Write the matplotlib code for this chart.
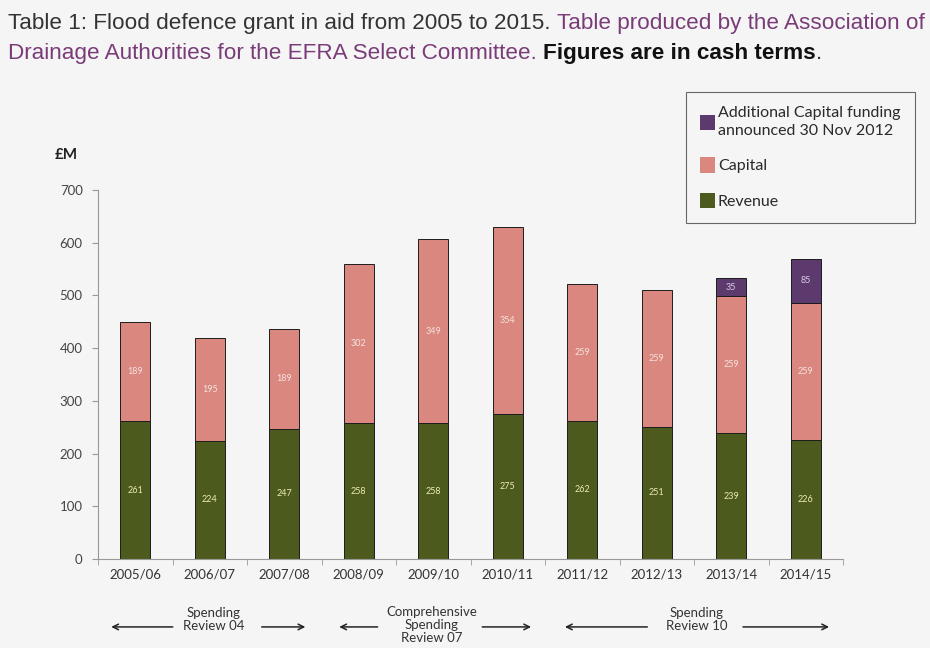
import matplotlib
matplotlib.use("Agg")
import matplotlib.pyplot as plt
from matplotlib.patches import Patch
import numpy as np

years = ["2005/06", "2006/07", "2007/08", "2008/09", "2009/10",
         "2010/11", "2011/12", "2012/13", "2013/14", "2014/15"]
revenue = [261, 224, 247, 258, 258, 275, 262, 251, 239, 226]
capital = [189, 195, 189, 302, 349, 354, 259, 259, 259, 259]
additional = [0, 0, 0, 0, 0, 0, 0, 0, 35, 85]

reviews = ["Spending\nReview 04", "Comprehensive\nSpending\nReview 07", "Spending\nReview 10"]

c_rev = "#4d5a1d"
c_cap = "#d9877f"
c_add = "#5d3a6e"
bg = "#f5f5f5"
body = "Lato"

fig = plt.figure(figsize=(9.3, 6.48), dpi=100, facecolor=bg)
ax = fig.add_axes([0.1054, 0.1373, 0.8011, 0.5695], facecolor=bg)

x = np.arange(len(years))
w = 0.4
edge = dict(edgecolor="#1c1c1c", linewidth=0.7)
ax.bar(x, revenue, w, color=c_rev, label="Revenue", **edge)
ax.bar(x, capital, w, bottom=revenue, color=c_cap, label="Capital", **edge)
base = np.array(revenue) + np.array(capital)
has_add = np.array(additional) > 0
ax.bar(x[has_add], np.array(additional)[has_add], w, bottom=base[has_add],
       color=c_add, **edge)

# segment values written in the middle of each block
for i in range(len(years)):
    ax.text(x[i], revenue[i] / 2, str(revenue[i]), ha="center", va="center",
            fontsize=6.5, color="#ecebb0", family=body)
    ax.text(x[i], revenue[i] + capital[i] / 2, str(capital[i]), ha="center",
            va="center", fontsize=6.5, color="#f6e2de", family=body)
    if additional[i]:
        ax.text(x[i], base[i] + additional[i] / 2, str(additional[i]),
                ha="center", va="center", fontsize=6.5, color="#d9cce3",
                family=body)

ax.set_xlim(-0.5, len(years) - 0.5)
ax.set_ylim(0, 700)
ax.set_yticks(range(0, 701, 100))
ax.set_xticks(x)
ax.set_xticklabels(years, family=body, fontsize=9.5, color="#333333")
ax.set_xticks(np.arange(-0.5, len(years)), minor=True)
ax.tick_params(axis="x", which="major", length=0, pad=7)
ax.tick_params(axis="x", which="minor", length=4, color="#999999", direction="out")
ax.tick_params(axis="y", length=4, color="#999999", labelsize=9.5,
               labelcolor="#444444", pad=7)
for lab in ax.get_yticklabels():
    lab.set_family(body)
for s in ["top", "right"]:
    ax.spines[s].set_visible(False)
for s in ["left", "bottom"]:
    ax.spines[s].set_color("#999999")
    ax.spines[s].set_linewidth(0.8)

fig.text(55 / 930, 1 - 155 / 648, "£M", fontsize=11, fontweight="bold",
         family=body, color="#222222", va="center")

# review periods under the axis
tr = ax.get_xaxis_transform()
spans = [(-0.36, 0.54, 1.05, 1.66, 2.32),
         (2.70, 3.29, 3.98, 4.62, 5.35),
         (5.73, 6.91, 7.54, 8.12, 9.35)]
for (l0, l1, mid, r0, r1), name in zip(spans, reviews):
    ax.annotate("", xy=(l0, -0.184), xytext=(l1, -0.184), xycoords=tr,
                textcoords=tr, annotation_clip=False,
                arrowprops=dict(arrowstyle="->", color="#222222", lw=1.1))
    ax.annotate("", xy=(r1, -0.184), xytext=(r0, -0.184), xycoords=tr,
                textcoords=tr, annotation_clip=False,
                arrowprops=dict(arrowstyle="->", color="#222222", lw=1.1))
    yy = -0.178 if name.count("\n") == 2 else -0.165
    ax.text(mid, yy, name, transform=tr, ha="center", va="center",
            fontsize=9.5, family=body, color="#333333", linespacing=1.1)

handles = [Patch(facecolor=c_add, edgecolor="none"),
           Patch(facecolor=c_cap, edgecolor="none"),
           Patch(facecolor=c_rev, edgecolor="none")]
labels = ["Additional Capital funding\nannounced 30 Nov 2012", "Capital", "Revenue"]
leg = fig.legend(handles, labels, loc="upper left",
                 bbox_to_anchor=(686 / 930, 1 - 92 / 648), borderaxespad=0,
                 prop=dict(family=body, size=11.5), labelcolor="#2a2a2a",
                 handlelength=0.9, handleheight=1.1, handletextpad=0.2,
                 labelspacing=1.2, borderpad=0.9, fancybox=False,
                 facecolor=bg, edgecolor="#444444")
leg.get_frame().set_linewidth(0.8)
for t in leg.get_texts():
    t.set_linespacing(1.35)

# heading in three styles, pieced together left to right
fig.canvas.draw()
renderer = fig.canvas.get_renderer()


def run_text(px, py, parts):
    for txt, color, weight in parts:
        t = fig.text(px / 930, 1 - py / 648, txt, fontsize=16.2, color=color,
                     fontweight=weight, family="Liberation Sans", va="baseline")
        bb = t.get_window_extent(renderer)
        px += bb.width


purple = "#7a3c78"
run_text(8, 29, [("Table 1: Flood defence grant in aid from 2005 to 2015. ", "#333333", "normal"),
                 ("Table produced by the Association of", purple, "normal")])
run_text(8, 59, [("Drainage Authorities for the EFRA Select Committee. ", purple, "normal"),
                 ("Figures are in cash terms", "#111111", "bold"),
                 (".", "#333333", "normal")])

fig.savefig("out.png", dpi=100, facecolor=bg)
